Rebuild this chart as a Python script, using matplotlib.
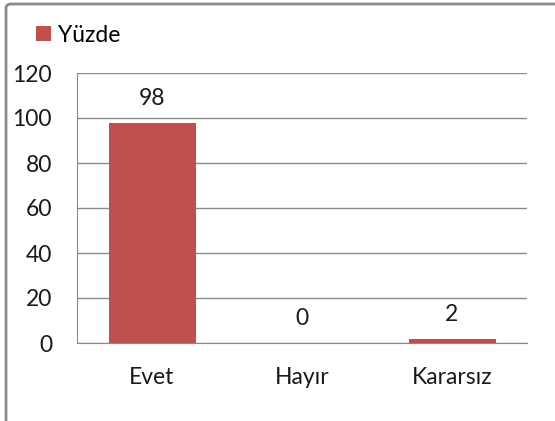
import matplotlib
matplotlib.use("Agg")
import matplotlib.pyplot as plt
from matplotlib.patches import FancyBboxPatch

categories = ["Evet", "Hayır", "Kararsız"]
values = [98, 0, 2]
series_name = "Yüzde"
yticks = [0, 20, 40, 60, 80, 100, 120]

W, H = 555, 421
fig = plt.figure(figsize=(W / 100, H / 100), dpi=100)
plt.rcParams['font.family'] = ['Lato', 'DejaVu Sans']

# outer border
border = FancyBboxPatch((6 / W, -0.05), 1.2, (H - 4) / H + 0.05,
                        boxstyle="round,pad=0,rounding_size=0.01",
                        transform=fig.transFigure, fill=False,
                        edgecolor="#8a8a8a", linewidth=2, clip_on=False)
fig.patches.append(border)

left, right, top, bottom = 77, 527, 73, 343
ax = fig.add_axes([left / W, 1 - bottom / H, (right - left) / W, (bottom - top) / H])

color = "#C0504D"
fs = 16.5
x = list(range(len(categories)))
bars = ax.bar(x, values, width=0.58, color=color, label=series_name, zorder=3)
ax.set_xlim(-0.5, len(categories) - 0.5)
ax.set_ylim(0, 120)
ax.set_yticks(yticks)
ax.set_yticklabels([str(t) for t in yticks], fontsize=fs, color="#1a1a1a")
ax.set_xticks(x)
ax.set_xticklabels(categories, fontsize=fs, color="#1a1a1a")
ax.tick_params(axis='y', length=0, pad=18)
ax.tick_params(axis='x', length=0, pad=17)
ax.grid(axis='y', color="#8a8a8a", linewidth=1, zorder=0)
for s in ["top", "right"]:
    ax.spines[s].set_visible(False)
ax.spines["left"].set_color("#8a8a8a")
ax.spines["bottom"].set_color("#8a8a8a")

for xi, v in zip(x, values):
    ax.annotate(str(v), (xi, v), xytext=(0, 10), textcoords="offset points",
                ha="center", va="bottom", fontsize=fs, color="#1a1a1a")

leg = fig.legend(handles=[bars], labels=[series_name], loc="center left",
                 bbox_to_anchor=(36 / W, 1 - 35 / H), frameon=False,
                 fontsize=fs, handlelength=0.65, handleheight=0.65,
                 handletextpad=0.3, borderaxespad=0, borderpad=0)

fig.savefig("out.png", dpi=100)
